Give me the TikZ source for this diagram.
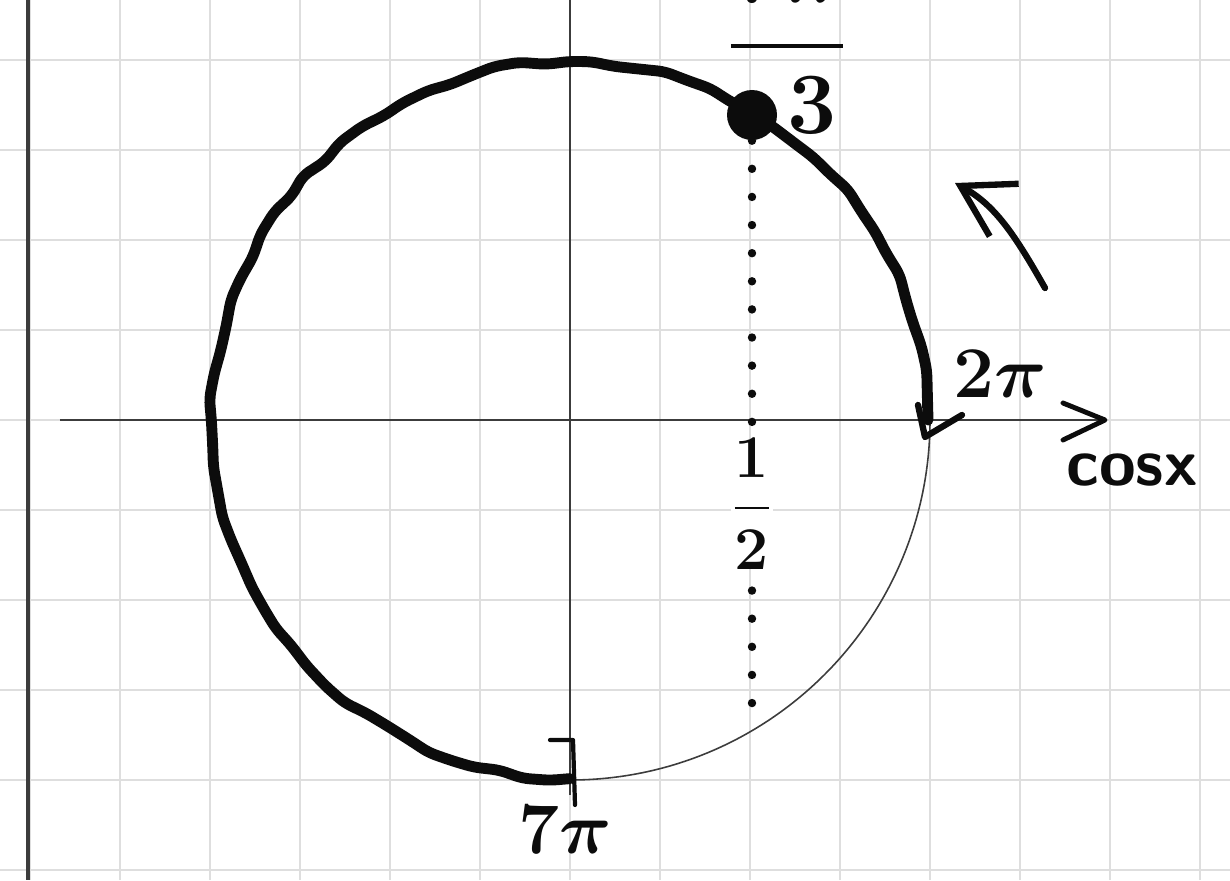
\documentclass[tikz,border=0pt]{standalone}
\usepackage{amsmath}
\usetikzlibrary{arrows.meta,decorations.pathmorphing,calc}
\definecolor{TrigInk}{RGB}{12,12,12}
\definecolor{TrigGrid}{RGB}{222,222,222}
\definecolor{TrigAxis}{RGB}{60,60,60}
\tikzset{
  trig grid/.style={draw=TrigGrid, line width=0.6pt},
  trig margin/.style={draw=TrigAxis, line width=1.1pt},
  trig axis/.style={draw=TrigAxis, line width=0.55pt},
  trig circle/.style={draw=TrigAxis, line width=0.45pt},
  trig arc/.style={
    draw=TrigInk,
    line width=3.1pt,
    line cap=round,
    line join=round,
    decorate,
    decoration={random steps, segment length=7pt, amplitude=0.8pt},
    rounded corners=2pt
  },
  trig pen/.style={draw=TrigInk, line width=1.8pt, line cap=round, line join=round},
  trig dots/.style={draw=TrigInk, line width=2.4pt, line cap=round, dash pattern=on 0pt off 8pt},
  trig dot/.style={circle, fill=TrigInk, inner sep=0pt, minimum size=0.5cm},
  trig label/.style={text=TrigInk, font=\fontsize{20}{22}\selectfont\boldmath, inner sep=1pt}
}

\begin{document}
\begin{tikzpicture}
\pgfmathsetseed{7}
\useasboundingbox (-5.7,-4.6) rectangle (6.6,4.2);
\clip (-5.7,-4.6) rectangle (6.6,4.2);
% squared paper
\draw[trig grid] (-5.7,-4.6) grid[step=0.9] (6.6,4.2);
\draw[trig margin] (-5.42,4.2) -- (-5.42,-4.6);
% axes
\coordinate (xl) at (-5.1,0);
\coordinate (xr) at (5.35,0);
\coordinate (yt) at (0,4.2);
\coordinate (yb) at (0,-3.75);
\draw[trig axis] (xl) -- (xr);
\draw[trig pen, line width=1.4pt] ($(xr)+(-0.42,0.17)$) -- (xr) -- ($(xr)+(-0.42,-0.2)$);
\draw[trig axis] (yt) -- (yb);
\draw[trig circle] (0,0) circle[radius=3.6];
% path of the angle
\draw[trig arc] (0:3.58) arc[start angle=0, end angle=270, radius=3.58];
\draw[trig pen] (3.48,0.15) -- (3.55,-0.17) -- (3.92,0.05);
\draw[trig pen, line width=1.2pt] (-0.2,-3.2) -- (0.03,-3.2) -- (0.05,-3.85);
% point pi/3
\node[trig dot] (pthird) at (1.82,3.05) {};
\coordinate (foot) at (1.82,-2.95);
\draw[trig dots] (pthird) -- (foot);
\node[trig label, fill=white, inner sep=0pt, font=\fontsize{18}{20}\selectfont\boldmath] (half) at (1.82,-0.84) {$\dfrac{1}{2}$};
% labels
\node[trig label, font=\fontsize{25}{27}\selectfont\boldmath] (topfrac) at (2.17,3.8) {$\dfrac{7\pi}{\hphantom{7}3}$};
\node[trig label, anchor=north] (botfrac) at (-0.05,-3.82) {$\dfrac{7\pi}{2}$};
\node[trig label] (twopi) at (4.3,0.46) {$2\pi$};
\node[trig label, font=\fontsize{19}{21}\selectfont\sffamily\bfseries] (cosx) at (5.62,-0.5) {cosx};
% direction of motion
\coordinate (turnS) at (4.75,1.32);
\coordinate (turnE) at (3.85,2.37);
\draw[trig pen, -{Straight Barb[length=5mm, width=6mm]}] (turnS) .. controls (4.45,1.85) and (4.25,2.15) .. (turnE);
\end{tikzpicture}
\end{document}
